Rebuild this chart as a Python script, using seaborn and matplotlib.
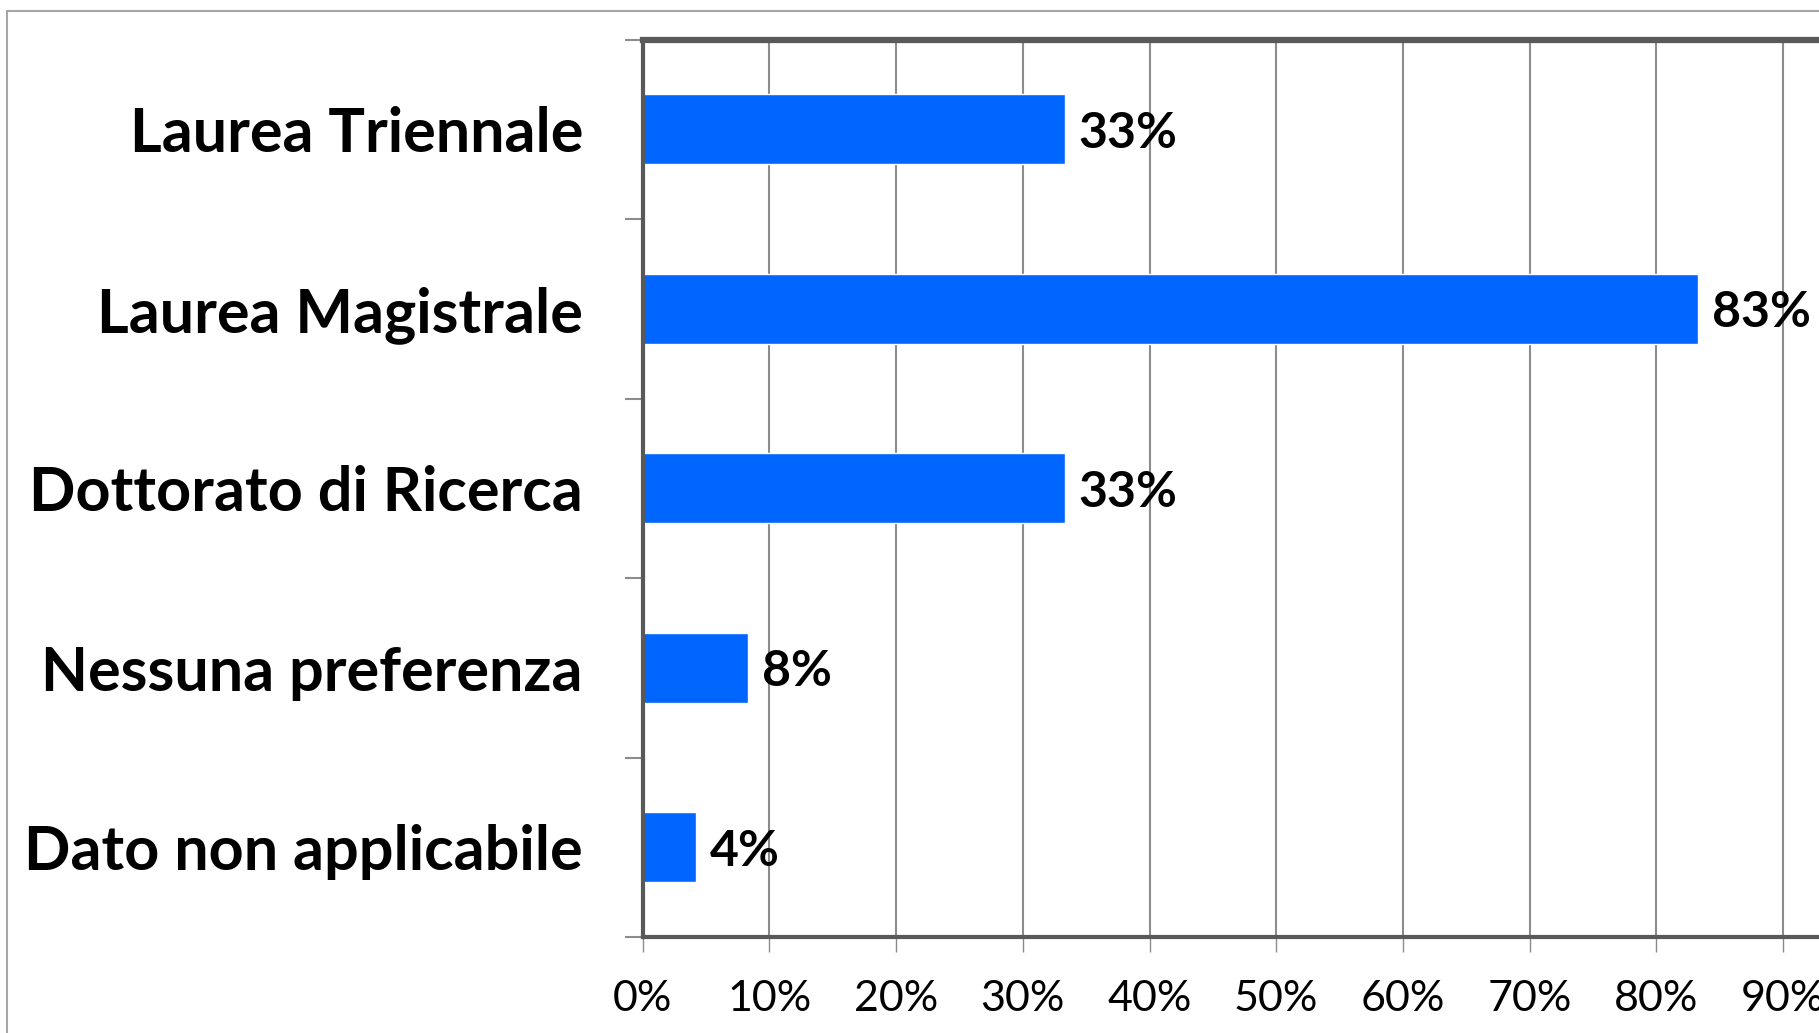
import matplotlib
matplotlib.use("Agg")
import matplotlib.pyplot as plt
import seaborn as sns
import pandas as pd
from matplotlib.patches import Rectangle

# data (percent of respondents)
categories = ["Laurea Triennale", "Laurea Magistrale", "Dottorato di Ricerca",
              "Nessuna preferenza", "Dato non applicabile"]
values = [33.3, 83.3, 33.3, 8.3, 4.2]
x_ticks = [0, 10, 20, 30, 40, 50, 60, 70, 80, 90, 100]

df = pd.DataFrame({"categoria": categories, "valore": values})

sns.set_theme(style="white")
plt.rcParams["font.family"] = ["Lato", "DejaVu Sans"]
plt.rcParams["text.color"] = "black"
plt.rcParams["xtick.labelcolor"] = "black"
plt.rcParams["ytick.labelcolor"] = "black"

W, H = 1819, 1033
fig = plt.figure(figsize=(W / 100, H / 100), dpi=100)

# outer chart frame, partly cut off at right and bottom
fig.patches.append(Rectangle((7 / W, -0.1), 1.2, 1 - 11 / H + 0.1,
                             transform=fig.transFigure, fill=False,
                             edgecolor="#a6a6a6", linewidth=1.5))

# plot area runs past the right edge of the image
x0, y0_top, y_bot = 642.7, 39.5, 937
ax = fig.add_axes([x0 / W, 1 - y_bot / H, 1267 / W, (y_bot - y0_top) / H])

sns.barplot(data=df, x="valore", y="categoria", color="#0066FF",
            width=0.39, saturation=1, ax=ax, orient="h")

ax.set_xlim(0, 100)
ax.set_ylim(4.5, -0.5)
ax.set_xticks(x_ticks)
ax.set_xticklabels([f"{t}%" for t in x_ticks], fontsize=31)
ax.set_xlabel("")
ax.set_ylabel("")

# y ticks at category boundaries, labels in between
ax.set_yticks([i - 0.5 for i in range(len(categories) + 1)])
ax.set_yticklabels([])
ax.set_yticks(range(len(categories)), minor=True)
ax.set_yticklabels(categories, minor=True, fontsize=44, fontweight="bold")
ax.tick_params(axis="y", which="major", direction="out", length=13,
               width=1.5, color="#8c8c8c", left=True)
ax.tick_params(axis="y", which="minor", length=0, pad=43)
ax.tick_params(axis="x", direction="out", length=11, width=1, color="#8c8c8c",
               bottom=True, pad=20)

ax.grid(axis="x", color="#8c8c8c", linewidth=1.5)
ax.set_axisbelow(True)
for side in ["top", "left", "bottom"]:
    ax.spines[side].set_visible(True)
    ax.spines[side].set_color("#595959")
ax.spines["top"].set_linewidth(4.5)
ax.spines["left"].set_linewidth(3)
ax.spines["bottom"].set_linewidth(3)
ax.spines["right"].set_visible(False)

labels = ax.bar_label(ax.containers[0], labels=[f"{v:.0f}%" for v in values],
                      padding=10, fontsize=36, fontweight="bold", color="black")
for t in labels:
    t.set_verticalalignment("center_baseline")

fig.savefig("out.png", dpi=100)
